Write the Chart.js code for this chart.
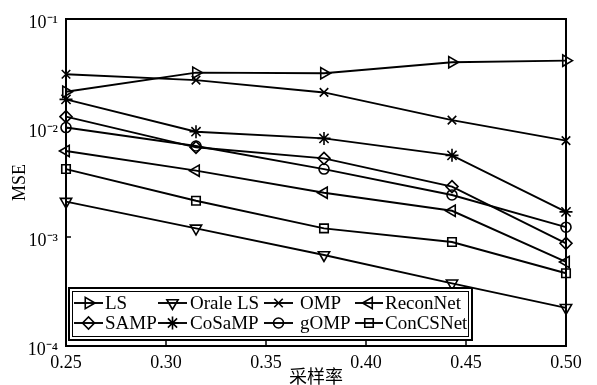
<!DOCTYPE html>
<html>
<head>
<meta charset="utf-8">
<script src="https://cdn.jsdelivr.net/npm/chart.js@4"></script>
<style>
  html, body { margin: 0; padding: 0; background: #fff; }
  #wrap { width: 597px; height: 385px; }
</style>
</head>
<body>
<div id="wrap"><canvas id="chart" width="597" height="385"></canvas></div>
<script>
// sampling rate (x) and MSE (y)
const sampleRates = [0.25, 0.315, 0.379, 0.443, 0.5];

const mseLS       = [0.0215, 0.0322, 0.0318, 0.0401, 0.0415];
const mseOraleLS  = [0.00211, 0.0012, 0.000684, 0.000376, 0.000224];
const mseOMP      = [0.0311, 0.0275, 0.0212, 0.0118, 0.00766];
const mseReconNet = [0.00615, 0.00406, 0.00255, 0.00174, 0.00059];
const mseSAMP     = [0.0127, 0.00665, 0.00527, 0.0029, 0.000875];
const mseCoSaMP   = [0.0183, 0.00925, 0.00803, 0.00561, 0.0017];
const mseGOMP     = [0.0101, 0.00684, 0.0042, 0.00243, 0.00123];
const mseConCSNet = [0.0042, 0.00215, 0.0012, 0.0009, 0.000465];

const seriesNames = ["LS", "Orale LS", "OMP", "ReconNet", "SAMP", "CoSaMP", "gOMP", "ConCSNet"];

const xTickValues = [0.25, 0.30, 0.35, 0.40, 0.45, 0.50];
const xTickLabels = ["0.25", "0.30", "0.35", "0.40", "0.45", "0.50"];
const yTickValues = [1e-4, 1e-3, 1e-2, 1e-1];
const yTickLabels = ["10\u207B\u2074", "10\u207B\u00B3", "10\u207B\u00B2", "10\u207B\u00B9"];

const SERIF = '"Liberation Serif", "Times New Roman", serif';
Chart.defaults.font.family = SERIF;
Chart.defaults.color = "#000";

const pts = (ys) => ys.map((y, i) => ({ x: sampleRates[i], y }));

// marker style per series (same order as seriesNames)
const markers = [
  { style: "triangle", rot: 90,  r: 6.5 },
  { style: "triangle", rot: 180, r: 6.5 },
  { style: "crossRot", rot: 0,   r: 6 },
  { style: "triangle", rot: 270, r: 6.5 },
  { style: "rectRot",  rot: 0,   r: 6 },
  { style: "star",     rot: 0,   r: 6.5 },
  { style: "circle",   rot: 0,   r: 5 },
  { style: "rect",     rot: 0,   r: 6 },
];
const allSeries = [mseLS, mseOraleLS, mseOMP, mseReconNet, mseSAMP, mseCoSaMP, mseGOMP, mseConCSNet];

const datasets = allSeries.map((ys, i) => ({
  label: seriesNames[i],
  data: pts(ys),
  borderColor: "#000",
  backgroundColor: "rgba(0,0,0,0)",
  borderWidth: 1.9,
  pointStyle: markers[i].style,
  pointRotation: markers[i].rot,
  pointRadius: markers[i].r,
  pointBorderWidth: 1.6,
  pointBorderColor: "#000",
  pointBackgroundColor: "rgba(0,0,0,0)",
  tension: 0,
  clip: false,
}));

// frame + inward ticks
const framePlugin = {
  id: "frame",
  afterDraw(chart) {
    const { ctx, chartArea: a, scales } = chart;
    ctx.save();
    ctx.strokeStyle = "#000";
    ctx.lineWidth = 1.5;
    for (const v of xTickValues.slice(1, -1)) {
      const x = Math.round(scales.x.getPixelForValue(v));
      ctx.beginPath(); ctx.moveTo(x, a.bottom); ctx.lineTo(x, a.bottom - 5); ctx.stroke();
    }
    for (const v of yTickValues.slice(1, -1)) {
      const y = Math.round(scales.y.getPixelForValue(v));
      ctx.beginPath(); ctx.moveTo(a.left, y); ctx.lineTo(a.left + 5, y); ctx.stroke();
    }
    ctx.lineWidth = 2;
    ctx.strokeRect(a.left, a.top, a.right - a.left, a.bottom - a.top);
    ctx.restore();
  }
};

// legend drawn inside plot, 2 rows x 4 columns with a double border
const legendPlugin = {
  id: "boxLegend",
  afterDraw(chart) {
    const { ctx } = chart;
    const box = { l: 69, t: 288, r: 472, b: 340 };
    const lineX = [[74, 103], [158, 187], [264, 293], [355, 383]];
    const textX = [105, 190, 300, 385];
    const rowY = [303, 323];
    ctx.save();
    ctx.fillStyle = "#fff";
    ctx.fillRect(box.l, box.t, box.r - box.l, box.b - box.t);
    ctx.strokeStyle = "#000";
    ctx.lineWidth = 2;
    ctx.strokeRect(box.l, box.t, box.r - box.l, box.b - box.t);
    ctx.lineWidth = 1;
    ctx.strokeRect(box.l + 3.5, box.t + 3.5, box.r - box.l - 7, box.b - box.t - 7);
    ctx.font = "19px " + SERIF;
    ctx.textBaseline = "middle";
    chart.data.datasets.forEach((ds, i) => {
      const col = i % 4, row = Math.floor(i / 4);
      const [x0, x1] = lineX[col];
      const y = rowY[row];
      ctx.lineWidth = 1.9;
      ctx.strokeStyle = "#000";
      ctx.beginPath(); ctx.moveTo(x0, y); ctx.lineTo(x1, y); ctx.stroke();
      ctx.fillStyle = "rgba(0,0,0,0)";
      ctx.lineWidth = 1.6;
      Chart.helpers.drawPoint(ctx, {
        pointStyle: ds.pointStyle, rotation: ds.pointRotation,
        radius: ds.pointRadius, borderWidth: 1.6
      }, (x0 + x1) / 2, y);
      ctx.fillStyle = "#000";
      ctx.fillText(ds.label, textX[col], y + 1);
    });
    ctx.restore();
  }
};

new Chart(document.getElementById("chart"), {
  type: "line",
  data: { datasets },
  options: {
    responsive: false,
    animation: false,
    layout: { padding: { top: 19, right: 31, left: 0, bottom: 0 } },
    plugins: { legend: { display: false }, tooltip: { enabled: false } },
    scales: {
      x: {
        type: "linear",
        min: 0.25, max: 0.5,
        afterBuildTicks: (s) => { s.ticks = xTickValues.map(v => ({ value: v })); },
        afterFit: (s) => { s.height = 39; },
        ticks: {
          font: { size: 18 }, padding: 6, maxRotation: 0,
          callback: (v, i) => xTickLabels[i]
        },
        grid: { display: false, drawTicks: false },
        border: { display: false },
        title: { display: true, text: "采样率", font: { size: 18, family: '"Noto Sans CJK SC", sans-serif' }, padding: { top: 0, bottom: -2 } }
      },
      y: {
        type: "logarithmic",
        min: 1e-4, max: 1e-1,
        afterBuildTicks: (s) => { s.ticks = yTickValues.map(v => ({ value: v })); },
        afterFit: (s) => { s.width = 66; },
        ticks: {
          font: { size: 18 }, padding: 8, labelOffset: 4,
          callback: (v, i) => yTickLabels[i]
        },
        grid: { display: false, drawTicks: false },
        border: { display: false },
        title: { display: true, text: "MSE", font: { size: 18 }, padding: { top: 9, bottom: 0 } }
      }
    }
  },
  plugins: [framePlugin, legendPlugin]
});
</script>
</body>
</html>
